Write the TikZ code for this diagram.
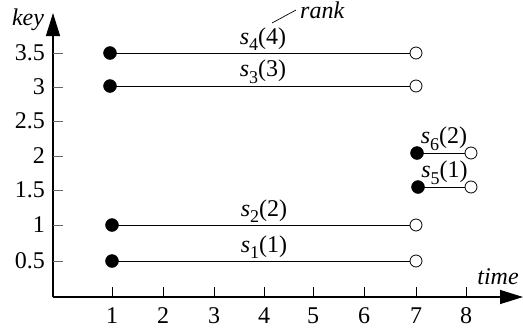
\documentclass[tikz,border=0pt]{standalone}
\usepackage{fontspec}
\setmainfont{Liberation Serif}
\usetikzlibrary{arrows.meta,calc}
\newcommand\seglbl[2]{\textit{s}\raisebox{-0.28em}{\fontsize{18}{18}\selectfont #1}(#2)}
\tikzset{
  lbl/.style={font=\fontsize{24}{27}\selectfont, inner sep=0pt},
  itlbl/.style={lbl, font=\fontsize{24}{27}\selectfont\itshape},
  axisline/.style={line width=1.2pt, -{Triangle[length=23pt,width=14pt]}},
  fdot/.style={circle, fill=black, draw=black, minimum size=13pt, inner sep=0pt},
  odot/.style={circle, fill=white, draw=black, line width=0.8pt, minimum size=12pt, inner sep=0pt},
  segline/.style={line width=1pt},
  xtick/.style={line width=1pt},
  ytick/.style={line width=1pt, draw=black!60},
  seglabel/.style={lbl, anchor=south, inner sep=1pt}
}
\begin{document}
\begin{tikzpicture}[x=1pt,y=-1pt]
\useasboundingbox (0,0) rectangle (523,335);
% axes
\coordinate (o) at (53,297);
\coordinate (ytop) at (53,13);
\coordinate (xend) at (523,297);
\draw[axisline] (o) -- (ytop);
\draw[axisline] (o) -- (xend);
\node[itlbl, anchor=base] (keylbl) at (28,25) {key};
\node[itlbl, anchor=base] (timelbl) at (498,284) {time};
% x ticks
\foreach \x/\t in {112/1,163/2,214/3,264/4,313/5,364/6,416/7,466/8}{
  \coordinate (xt\t) at (\x,297);
  \coordinate (xtt\t) at (\x,287);
  \draw[xtick] (xt\t) -- (xtt\t);
  \node[lbl, anchor=base] (xl\t) at (\x,323) {\t};
}
% y ticks
\foreach \y/\t/\n in {261/0.5/a,225/1/b,190/1.5/c,156/2/d,121/2.5/e,87/3/f,53/3.5/g}{
  \coordinate (yt\n) at (53,\y);
  \coordinate (ytt\n) at (63,\y);
  \draw[ytick] (yt\n) -- (ytt\n);
  \node[lbl, anchor=east] (yl\n) at (45,\y) {\t};
}
% segments
\foreach \n/\xa/\xb/\y/\i/\r in {1/112/416/261/1/1, 2/112/416/225/2/2, 3/110/416/86/3/3, 4/110/416/53/4/4, 5/418/471/187/5/1, 6/417/471/153/6/2}{
  \draw[segline] (\xa,\y) -- (\xb,\y);
  \node[fdot] (sa\n) at (\xa,\y) {};
  \node[odot] (sb\n) at (\xb,\y) {};
  \node[seglabel] (sl\n) at ($(sa\n)!0.5!(sb\n)+(0,-1)$) {\seglbl{\i}{\r}};
}
% rank
\node[itlbl, anchor=base west] (rank) at (300,18) {rank};
\coordinate (rk1) at (272,23);
\coordinate (rk2) at (296,10);
\draw[line width=0.7pt] (rk1) -- (rk2);
\end{tikzpicture}
\end{document}
